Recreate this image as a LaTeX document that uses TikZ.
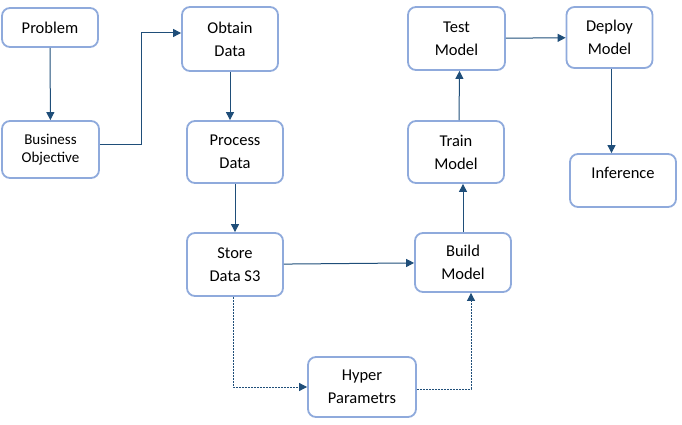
\documentclass[tikz,border=0pt]{standalone}
\usepackage{fontspec}
\setmainfont{Carlito}
\usetikzlibrary{arrows.meta, positioning, calc}
\definecolor{cedge}{HTML}{8FAADC}
\definecolor{carrow}{HTML}{1F4E79}
\tikzset{
  every picture/.style={font=\fontsize{16.5}{23}\selectfont, line width=1pt},
  box/.style={draw=cedge, fill=white, line width=1.8pt, rounded corners=8pt, align=center, inner sep=2pt, minimum width=#1},
  box/.default=96pt,
  arrow/.style={-{Triangle[length=8pt, width=8pt]}, draw=carrow, line width=1pt},
  dasharrow/.style={arrow, line width=0.8pt, dash pattern=on 2pt off 1pt},
  small/.style={font=\fontsize{15}{18}\selectfont},
}

\begin{document}
\begin{tikzpicture}[x=1pt, y=-1pt]
  \useasboundingbox (0,0) rectangle (682,425);
  % boxes
  \node[box, minimum height=39pt] (problem) at (50,27.5) {Problem};
  \node[box=97pt, minimum height=57pt, small] (business) at (50.5,149.5) {Business\\Objective};
  \node[box, minimum height=64pt] (obtain) at (230,39) {Obtain\\Data};
  \node[box, minimum height=62pt] (process) at (235,152) {Process\\Data};
  \node[box, minimum height=63pt] (store) at (235,264.5) {Store\\Data S3};
  \node[box=108pt, minimum height=60pt] (hyper) at (362,387) {Hyper\\Parametrs};
  \node[box, minimum height=59pt] (build) at (463,262.5) {Build\\Model};
  \node[box, minimum height=62pt] (train) at (456,152) {Train\\Model};
  \node[box=97pt, minimum height=63pt] (test) at (456.5,38.5) {Test\\Model};
  \node[box=86pt, minimum height=61pt] (deploy) at (609.5,37.5) {Deploy\\Model};
  \node[box=106pt, minimum height=53pt] (inference) at (623,180.5) {Inference\\[-8pt]\mbox{}};
  % connectors
  \draw[arrow] (problem) -- (business);
  \draw[arrow] ([yshift=5pt]business.east) -- ++(42,0) |- ([yshift=6pt]obtain.west);
  \draw[arrow] (obtain.south) -- (obtain.south |- process.north);
  \draw[arrow] (process) -- (store);
  \draw[arrow] (store) -- (build);
  \draw[dasharrow] ([xshift=-2pt]store.south) |- (hyper.west);
  \draw[dasharrow] ([yshift=-2pt]hyper.east) -| ([xshift=8pt]build.south);
  \draw[arrow] (build.north) -- (build.north |- train.south);
  \draw[arrow] ([xshift=3pt]train.north) -- ([xshift=3pt]test.south);
  \draw[arrow] (test) -- (deploy);
  \draw[arrow] ([xshift=2pt]deploy.south) -- ([xshift=2pt]deploy.south |- inference.north);
\end{tikzpicture}
\end{document}
